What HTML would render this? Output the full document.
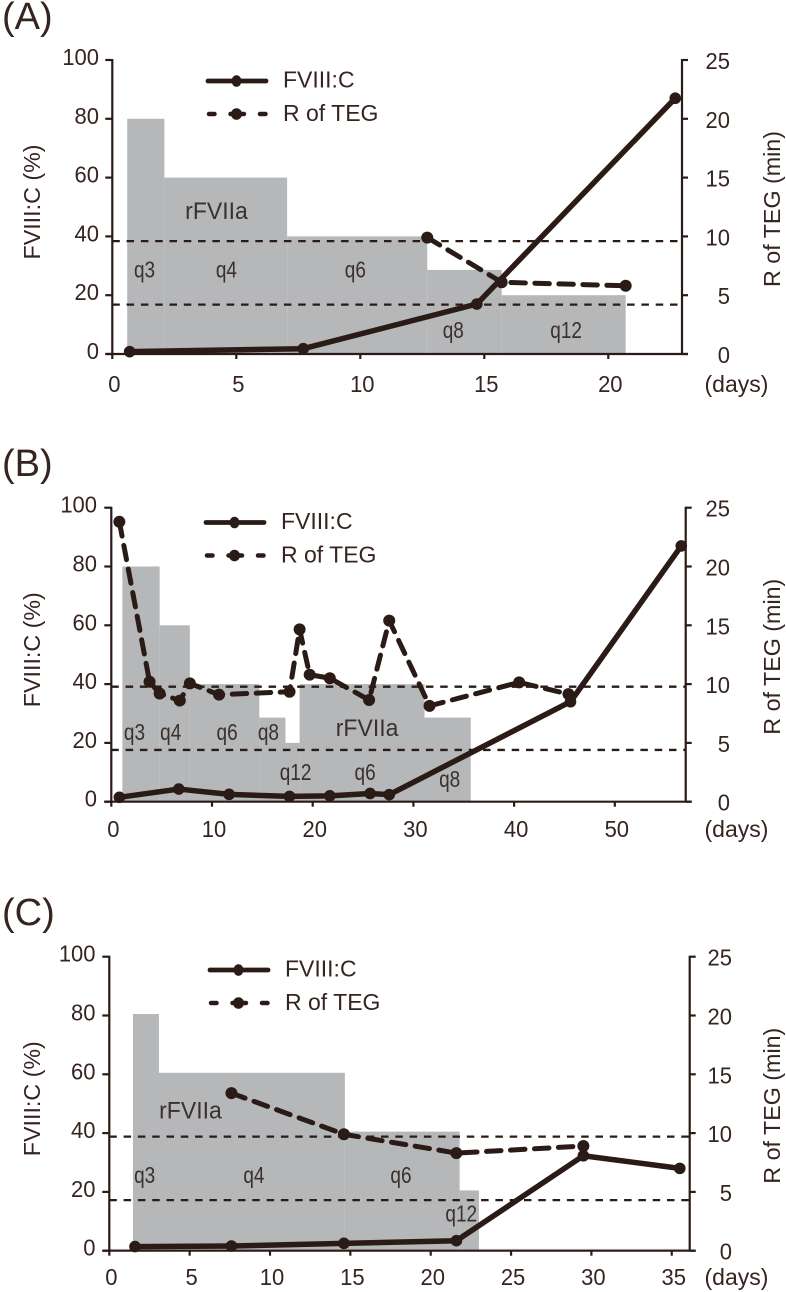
<!DOCTYPE html>
<html lang="en">
<head>
<meta charset="utf-8">
<title>FVIII:C and R of TEG during rFVIIa treatment</title>
<style>
html,body{margin:0;padding:0;background:#fff;}
body{width:786px;height:1292px;overflow:hidden;}
svg{display:block;}
text{font-family:"Liberation Sans",sans-serif;fill:#35241f;}
</style>
</head>
<body>
<svg id="figure" width="786" height="1292" viewBox="0 0 786 1292" xmlns="http://www.w3.org/2000/svg"></svg>
<script>
const leftTickLabels = [0, 20, 40, 60, 80, 100];
const rightTickLabels = [0, 5, 10, 15, 20, 25];

const panelAXTicks = [0, 5, 10, 15, 20];
const panelADoseEdges = [0.6, 2.1, 7.05, 12.7, 15.7, 20.7];
const panelADoseLevels = [80, 60, 40, 28.6, 20];
const panelAFviiiDays = [0.7, 7.7, 14.7, 22.7];
const panelAFviiiValues = [0.8, 1.8, 17, 87];
const panelATegDays = [12.7, 15.7, 20.7];
const panelATegValues = [9.9, 6.1, 5.8];
const panelARefLines = [9.6, 4.2];
const panelANotes = ["q3", "q4", "q6", "q8", "q12", "rFVIIa"];
const panelANoteDays = [1.3, 4.6, 9.8, 13.75, 18.3, 4.2];
const panelANoteLevels = [26, 26, 26, 5.4, 5.4, 46];

const panelBXTicks = [0, 10, 20, 30, 40, 50];
const panelBDoseEdges = [1.1, 4.8, 7.8, 14.7, 17.3, 18.7, 31.1, 35.7];
const panelBDoseLevels = [80, 60, 40, 28.6, 20, 40, 28.6];
const panelBFviiiDays = [0.8, 6.7, 11.7, 17.7, 21.7, 25.7, 27.6, 45.6, 56.6];
const panelBFviiiValues = [1.5, 4.3, 2.5, 1.8, 2, 2.8, 2.4, 34, 87];
const panelBTegDays = [0.8, 3.8, 4.8, 6.8, 7.8, 10.7, 17.7, 18.7, 19.7, 21.7, 25.6, 27.6, 31.6, 40.5, 45.4];
const panelBTegValues = [23.8, 10.2, 9.2, 8.6, 10.06, 9.1, 9.35, 14.65, 10.8, 10.5, 8.65, 15.4, 8.15, 10.15, 9.15];
const panelBRefLines = [9.78, 4.4];
const panelBNotes = ["q3", "q4", "q6", "q8", "q12", "q6", "q8", "rFVIIa"];
const panelBNoteDays = [2.3, 5.9, 11.5, 15.6, 18.3, 25.2, 33.6, 25.4];
const panelBNoteLevels = [21, 21, 21, 21, 7.4, 7.4, 5, 22.3];

const panelCXTicks = [0, 5, 10, 15, 20, 25, 30, 35];
const panelCDoseEdges = [1.47, 3.09, 14.66, 21.8, 23];
const panelCDoseLevels = [80.5, 60.5, 40.5, 20.5];
const panelCFviiiDays = [1.6, 7.6, 14.6, 21.6, 29.5, 35.5];
const panelCFviiiValues = [1.4, 1.6, 2.5, 3.4, 32.3, 28];
const panelCTegDays = [7.6, 14.6, 21.6, 29.5];
const panelCTegValues = [13.4, 9.9, 8.3, 8.9];
const panelCRefLines = [9.7, 4.3];
const panelCNotes = ["q3", "q4", "q6", "q12", "rFVIIa"];
const panelCNoteDays = [2.2, 9, 18.15, 21.9, 5.05];
const panelCNoteLevels = [23, 23, 23, 10, 45];

const svgRoot = document.getElementById('figure');
const NS = 'http://www.w3.org/2000/svg';
const INK = '#2b1b16';

function node(parent, tag, props, content) {
  const el = document.createElementNS(NS, tag);
  for (const key in props) el.setAttribute(key, props[key]);
  if (content !== undefined) el.textContent = content;
  parent.appendChild(el);
  return el;
}

function tickText(parent, x, y, anchor, label) {
  return node(parent, 'text', {
    transform: 'translate(' + x + ',' + y + ') scale(1,1.07)',
    'text-anchor': anchor, 'font-size': 22
  }, label);
}

function drawPanel(cfg) {
  const g = node(svgRoot, 'g', {});
  
  

  const xAt = function (day) { return cfg.left + day * cfg.pxPerDay; };
  const yPct = function (pct) { return cfg.y0 + (cfg.y100 - cfg.y0) * pct / 100; };
  const yMin = function (min) { return cfg.y0 + (cfg.y100 - cfg.y0) * min / 25; };

  const letter = node(g, 'text', { x: 2, y: cfg.letterY, 'font-size': 38 }, '(' + cfg.id.toUpperCase() + ')');
  
  

  if (cfg.strip) {
    const strip = node(g, 'rect', { x: cfg.left, y: cfg.y0 - 2, width: cfg.right - cfg.left, height: 2, fill: '#e2e3e4' });
    
    
  }

  cfg.doseLevels.forEach(function (level, i) {
    const x1 = xAt(cfg.doseEdges[i]);
    const x2 = xAt(cfg.doseEdges[i + 1]);
    const bar = node(g, 'rect', { x: x1, y: yPct(level), width: x2 - x1, height: cfg.y0 - yPct(level), fill: '#b5b7b9' });
    
    
  });

  cfg.notes.forEach(function (label, i) {
    const isDrug = label === 'rFVIIa';
    const note = node(g, 'text', {
      transform: 'translate(' + xAt(cfg.noteDays[i]) + ',' + yPct(cfg.noteLevels[i]) + ') scale(1,' + (isDrug ? 1.05 : 1.22) + ')',
      'text-anchor': 'middle', 'font-size': isDrug ? 23 : 19,
      style: 'fill:#3b302c'
    }, label);
    
    
  });

  cfg.refLines.forEach(function (min) {
    const ref = node(g, 'line', {
      x1: cfg.left, x2: cfg.right, y1: yMin(min), y2: yMin(min),
      stroke: INK, 'stroke-width': 2.3, 'stroke-dasharray': '7.5 6.8'
    });
    
    
  });

  const axes = node(g, 'g', { stroke: INK, 'stroke-width': 2.2, fill: 'none' });
  
  
  node(axes, 'line', { x1: cfg.left, x2: cfg.left, y1: cfg.y100 - 1, y2: cfg.y0 });
  node(axes, 'line', { x1: cfg.right, x2: cfg.right, y1: cfg.y100 - 1, y2: cfg.y0 });
  node(axes, 'line', { x1: cfg.left - 7, x2: cfg.right + 6, y1: cfg.y0, y2: cfg.y0 });

  leftTickLabels.forEach(function (pct) {
    const y = yPct(pct);
    node(axes, 'line', { x1: cfg.left - 7, x2: cfg.left, y1: y, y2: y });
    const t = tickText(g, cfg.leftLabelX, y + 5, 'end', String(pct));
    
    
  });

  rightTickLabels.forEach(function (min) {
    const y = yMin(min);
    node(axes, 'line', { x1: cfg.right, x2: cfg.right + 6, y1: y, y2: y });
    const t = tickText(g, cfg.rightLabelX, y + 9, 'end', String(min));
    
    
  });

  cfg.xTicks.forEach(function (day) {
    const x = xAt(day);
    node(axes, 'line', { x1: x, x2: x, y1: cfg.y0, y2: cfg.y0 + 5 });
    const t = tickText(g, x + 2, cfg.xLabelY, 'middle', String(day));
    
    
  });

  const days = node(g, 'text', { x: 704.5, y: cfg.xLabelY, 'font-size': 23 }, '(days)');
  
  

  const mid = (cfg.y0 + cfg.y100) / 2;
  const leftTitle = node(g, 'text', {
    transform: 'translate(40,' + (mid - 5) + ') rotate(-90)', 'text-anchor': 'middle',
    'font-size': 23.5, textLength: 115, lengthAdjust: 'spacingAndGlyphs'
  }, 'FVIII:C (%)');
  
  

  const rightTitle = node(g, 'text', {
    transform: 'translate(780,' + (mid + 2) + ') rotate(-90)', 'text-anchor': 'middle',
    'font-size': 23.5, textLength: 156, lengthAdjust: 'spacingAndGlyphs'
  }, 'R of TEG (min)');
  
  

  const tegPoints = cfg.tegDays.map(function (d, i) { return xAt(d) + ',' + yMin(cfg.tegValues[i]); }).join(' ');
  const tegLine = node(g, 'polyline', {
    points: tegPoints, fill: 'none', stroke: INK, 'stroke-width': 5,
    'stroke-dasharray': '14.5 9.5', 'stroke-linejoin': 'round', 'stroke-linecap': 'round'
  });
  
  
  cfg.tegDays.forEach(function (d, i) {
    const dot = node(g, 'circle', { cx: xAt(d), cy: yMin(cfg.tegValues[i]), r: 6, fill: INK });
    
    
  });

  const fviiiPoints = cfg.fviiiDays.map(function (d, i) { return xAt(d) + ',' + yPct(cfg.fviiiValues[i]); }).join(' ');
  const fviiiLine = node(g, 'polyline', {
    points: fviiiPoints, fill: 'none', stroke: INK, 'stroke-width': 5.5,
    'stroke-linejoin': 'round', 'stroke-linecap': 'round'
  });
  
  
  cfg.fviiiDays.forEach(function (d, i) {
    const dot = node(g, 'circle', { cx: xAt(d), cy: yPct(cfg.fviiiValues[i]), r: 5.8, fill: INK });
    
    
  });

  const legend = node(g, 'g', {});
  
  
  const row2 = cfg.legendY + 33;
  node(legend, 'line', { x1: cfg.legendX + 1, x2: cfg.legendX + 59, y1: cfg.legendY, y2: cfg.legendY, stroke: INK, 'stroke-width': 4.8, 'stroke-linecap': 'round' });
  node(legend, 'ellipse', { cx: cfg.legendX + 29.5, cy: cfg.legendY, rx: 5, ry: 5.8, fill: INK });
  const entry1 = node(legend, 'text', { x: cfg.legendX + 76, y: cfg.legendY + 6.5, 'font-size': 23 }, 'FVIII:C');
  
  
  node(legend, 'line', { x1: cfg.legendX + 2, x2: cfg.legendX + 58.5, y1: row2, y2: row2, stroke: INK, 'stroke-width': 4.5, 'stroke-linecap': 'round', 'stroke-dasharray': '5.5 16 13.5 16 5.5' });
  node(legend, 'ellipse', { cx: cfg.legendX + 29.5, cy: row2, rx: 5.5, ry: 5.8, fill: INK });
  const entry2 = node(legend, 'text', { x: cfg.legendX + 76, y: row2 + 7, 'font-size': 23 }, 'R of TEG');
  
  
}

drawPanel({
  id: 'a', letterY: 29, left: 112.3, right: 682, y0: 354, y100: 60, pxPerDay: 24.8,
  leftLabelX: 99, rightLabelX: 730, xLabelY: 392, legendX: 207, legendY: 81,
  xTicks: panelAXTicks, doseEdges: panelADoseEdges, doseLevels: panelADoseLevels,
  fviiiDays: panelAFviiiDays, fviiiValues: panelAFviiiValues,
  tegDays: panelATegDays, tegValues: panelATegValues, refLines: panelARefLines,
  notes: panelANotes, noteDays: panelANoteDays, noteLevels: panelANoteLevels
});
drawPanel({
  id: 'b', letterY: 476, left: 111.3, right: 685.7, y0: 801.7, y100: 507.7, pxPerDay: 10.07,
  leftLabelX: 97, rightLabelX: 730, xLabelY: 837, legendX: 205, legendY: 522.5,
  xTicks: panelBXTicks, doseEdges: panelBDoseEdges, doseLevels: panelBDoseLevels,
  fviiiDays: panelBFviiiDays, fviiiValues: panelBFviiiValues,
  tegDays: panelBTegDays, tegValues: panelBTegValues, refLines: panelBRefLines,
  notes: panelBNotes, noteDays: panelBNoteDays, noteLevels: panelBNoteLevels
});
drawPanel({
  id: 'c', letterY: 925, left: 109.3, right: 689.7, y0: 1250.7, y100: 956.7, pxPerDay: 16.07,
  leftLabelX: 95.5, rightLabelX: 732, xLabelY: 1285, legendX: 209, legendY: 970, strip: true,
  xTicks: panelCXTicks, doseEdges: panelCDoseEdges, doseLevels: panelCDoseLevels,
  fviiiDays: panelCFviiiDays, fviiiValues: panelCFviiiValues,
  tegDays: panelCTegDays, tegValues: panelCTegValues, refLines: panelCRefLines,
  notes: panelCNotes, noteDays: panelCNoteDays, noteLevels: panelCNoteLevels
});
</script>
</body>
</html>
